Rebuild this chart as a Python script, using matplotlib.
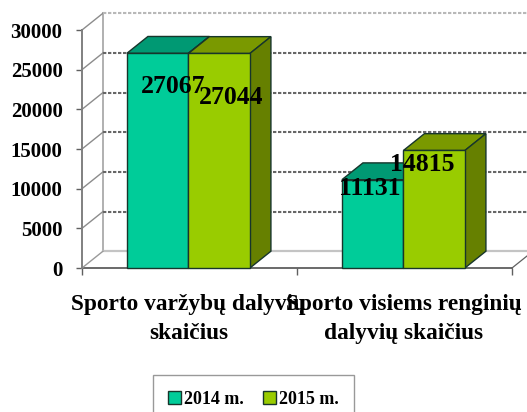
import matplotlib
matplotlib.use("Agg")
import matplotlib.pyplot as plt
from matplotlib.patches import Polygon, Patch

categories = ["Sporto varžybų dalyvių\nskaičius", "Sporto visiems renginių\ndalyvių skaičius"]
series_names = ["2014 m.", "2015 m."]
values_2014 = [27067, 11131]
values_2015 = [27044, 14815]
y_ticks = [0, 5000, 10000, 15000, 20000, 25000, 30000]

W, H = 527, 412
L, R, B, T = 82, 512, 268, 30
plt.rcParams["font.family"] = ["Liberation Serif", "DejaVu Serif"]
plt.rcParams["font.weight"] = "bold"

fig = plt.figure(figsize=(W / 100, H / 100), dpi=100, facecolor="white")
ax = fig.add_axes([L / W, 1 - B / H, (R - L) / W, (B - T) / H])
ax.set_xlim(0, 2)
ax.set_ylim(0, 30000)
ax.patch.set_visible(False)
for s in ("top", "right", "bottom"):
    ax.spines[s].set_visible(False)
ax.spines["left"].set_color("#808080")
ax.spines["left"].set_linewidth(1.4)

ux = (R - L) / 2
uy = (B - T) / 30000
DX, DY = 21 / ux, 16.8 / uy
BW = 61.5 / ux
EDGE = "#17352b"
kw = dict(clip_on=False)

# walls, floor and gridlines
xr = 2.0 + 15 / ux
ax.plot([DX, DX], [DY, 30000 + DY], color="#b0b0b0", lw=1.4, zorder=1, **kw)
ax.plot([DX, 2 + DX], [DY, DY], color="#c4c4c4", lw=1.6, zorder=1, **kw)
ax.plot([0, 2], [0, 0], color="#505050", lw=1.2, zorder=1, **kw)
ax.plot([2, xr], [0, DY * 15 / 21], color="#606060", lw=0.9, zorder=1, **kw)
for v in y_ticks:
    if v:
        ax.plot([0, DX], [v, v + DY], color="#8c8c8c", lw=1.0, zorder=1, **kw)
        c = "#b8b8b8" if v == 30000 else "#666666"
        ax.plot([DX, 2 + 15 / ux + DX], [v + DY, v + DY], color=c, lw=1.5,
                ls=(0, (1.6, 0.8)), zorder=1, **kw)
    else:
        ax.plot([0, DX], [0, DY], color="#9a9a9a", lw=1.0, zorder=1, **kw)

centers = [0.495, 1.495]
faces = ["#00CC99", "#99CC00"]
tops = ["#009973", "#7A9900"]
sides = ["#007A5C", "#668000"]

for sidx, vals in enumerate([values_2014, values_2015]):
    for c, v in zip(centers, vals):
        x0 = c - BW + sidx * BW
        x1 = x0 + BW
        ax.bar(x0, v, BW, align="edge", color=faces[sidx], edgecolor=EDGE,
               lw=1.0, zorder=3 + sidx, **kw)
        ax.add_patch(Polygon([(x0, v), (x1, v), (x1 + DX, v + DY), (x0 + DX, v + DY)],
                             fc=tops[sidx], ec=EDGE, lw=1.0, zorder=2 + sidx, **kw))
        ax.add_patch(Polygon([(x1, 0), (x1 + DX, DY), (x1 + DX, v + DY), (x1, v)],
                             fc=sides[sidx], ec=EDGE, lw=1.0, zorder=2 + sidx, **kw))

# data labels
label_offsets = [[(15, -33), (11.5, -44)], [(-2.5, -9), (-12, -14)]]
for sidx, vals in enumerate([values_2014, values_2015]):
    for gidx, (c, v) in enumerate(zip(centers, vals)):
        xc = c - BW / 2 + sidx * BW
        ax.annotate(str(v), (xc, v), xytext=label_offsets[gidx][sidx],
                    textcoords="offset pixels", ha="center", va="center",
                    fontsize=18.5, fontweight="bold", color="black", zorder=10,
                    annotation_clip=False)

ax.set_yticks(y_ticks)
ax.set_yticklabels([str(v) for v in y_ticks], fontsize=15)
ax.tick_params(axis="y", length=4, width=1.0, color="#606060", pad=10)
ax.set_xticks([0, 1, 2])
ax.set_xticklabels(["", "", ""])
ax.tick_params(axis="x", length=5, width=1.0, color="#606060")
ax.set_xticks(centers, minor=True)
ax.set_xticklabels(categories, minor=True, fontsize=16.8, linespacing=1.55)
ax.tick_params(axis="x", which="minor", length=0, pad=18.5)

handles = [Patch(fc=f, ec="#17352b", lw=1.0) for f in faces]
fig.legend(handles, series_names, ncol=2, loc="lower left",
           bbox_to_anchor=(153 / W, -11 / H), fontsize=13, frameon=True,
           fancybox=False, edgecolor="#808080", handlelength=0.7, handleheight=0.7,
           handletextpad=0.15, columnspacing=1.1, borderpad=0.85,
           borderaxespad=0)

fig.savefig("out.png", dpi=100)
